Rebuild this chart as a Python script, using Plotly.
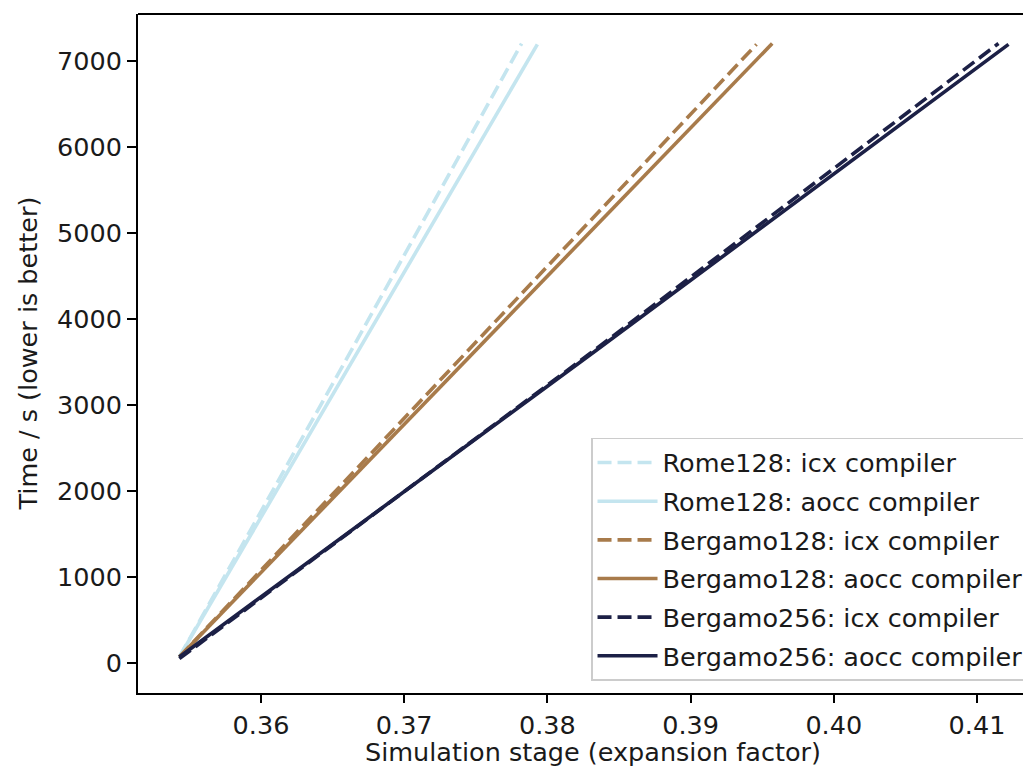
import plotly.graph_objects as go

# ---- data ----
series_names = [
    "Rome128: icx compiler",
    "Rome128: aocc compiler",
    "Bergamo128: icx compiler",
    "Bergamo128: aocc compiler",
    "Bergamo256: icx compiler",
    "Bergamo256: aocc compiler",
]
rome_icx_x = [0.3543, 0.3662, 0.3782]
rome_icx_y = [70, 3600, 7200]
rome_aocc_x = [0.3543, 0.3668, 0.3793]
rome_aocc_y = [70, 3620, 7190]
b128_icx_x = [0.3543, 0.3745, 0.3946]
b128_icx_y = [70, 3640, 7190]
b128_aocc_x = [0.3543, 0.3750, 0.3957]
b128_aocc_y = [70, 3630, 7200]
b256_icx_x = [0.3543, 0.3830, 0.4115]
b256_icx_y = [50, 3600, 7200]
b256_aocc_x = [0.3543, 0.3833, 0.4122]
b256_aocc_y = [70, 3620, 7190]

x_ticks = [0.36, 0.37, 0.38, 0.39, 0.40, 0.41]
x_tick_labels = ["0.36", "0.37", "0.38", "0.39", "0.40", "0.41"]
y_ticks = [0, 1000, 2000, 3000, 4000, 5000, 6000, 7000]
y_tick_labels = ["0", "1000", "2000", "3000", "4000", "5000", "6000", "7000"]
x_title = "Simulation stage (expansion factor)"
y_title = "Time / s (lower is better)"

xs = [rome_icx_x, rome_aocc_x, b128_icx_x, b128_aocc_x, b256_icx_x, b256_aocc_x]
ys = [rome_icx_y, rome_aocc_y, b128_icx_y, b128_aocc_y, b256_icx_y, b256_aocc_y]

# ---- styles ----
LIGHT = "#c4e5ef"
BROWN = "#a87b4b"
NAVY = "#1c2046"
colors = [LIGHT, LIGHT, BROWN, BROWN, NAVY, NAVY]
dashes = ["14px,6px", "solid", "14px,6px", "solid", "14px,6px", "solid"]
FONT = "DejaVu Sans"
FS = 25.5
TXT = "#1a1a1a"

fig = go.Figure()
for i, name in enumerate(series_names):
    fig.add_trace(go.Scatter(
        x=xs[i], y=ys[i], mode="lines", name=name,
        legendgroup=f"g{i}",
        line=dict(color=colors[i], width=3.6, dash=dashes[i]),
    ))

fig.update_layout(
    width=1031, height=767,
    margin=dict(l=130, r=0, t=6, b=82),
    paper_bgcolor="white", plot_bgcolor="white",
    font=dict(family=FONT, size=FS, color=TXT),
    showlegend=True,
    legend=dict(
        x=0.5028, y=0.3756, xanchor="left", yanchor="top",
        bgcolor="rgba(255,255,255,0.8)", bordercolor="#cccccc", borderwidth=1.5,
        font=dict(family=FONT, size=FS, color=TXT),
        itemwidth=60, traceorder="grouped", tracegroupgap=2.5,
    ),
    xaxis=dict(
        range=[0.351411, 0.414330],
        tickvals=x_ticks, ticktext=x_tick_labels,
        showgrid=False, zeroline=False,
        showline=True, linecolor="black", linewidth=2,
        ticks="outside", ticklen=8, tickwidth=2, tickcolor="black",
        tickfont=dict(family=FONT, size=FS, color=TXT),
    ),
    yaxis=dict(
        range=[-349, 7543],
        tickvals=y_ticks, ticktext=y_tick_labels,
        showgrid=False, zeroline=False,
        showline=True, linecolor="black", linewidth=2,
        ticks="outside", ticklen=9, tickwidth=2, tickcolor="black",
        tickfont=dict(family=FONT, size=FS, color=TXT),
    ),
    shapes=[dict(type="line", xref="paper", yref="paper", x0=0, x1=1, y0=1, y1=1,
                 line=dict(color="black", width=2))],
    annotations=[
        dict(text=x_title, xref="paper", yref="paper", x=0.5055, y=-0.0869,
             xanchor="center", yanchor="middle", showarrow=False,
             font=dict(family=FONT, size=FS, color=TXT)),
        dict(text=y_title, xref="paper", yref="paper", x=-0.1221, y=0.5,
             xanchor="center", yanchor="middle", showarrow=False, textangle=-90,
             font=dict(family=FONT, size=FS, color=TXT)),
    ],
)

fig.write_html("out.html")
